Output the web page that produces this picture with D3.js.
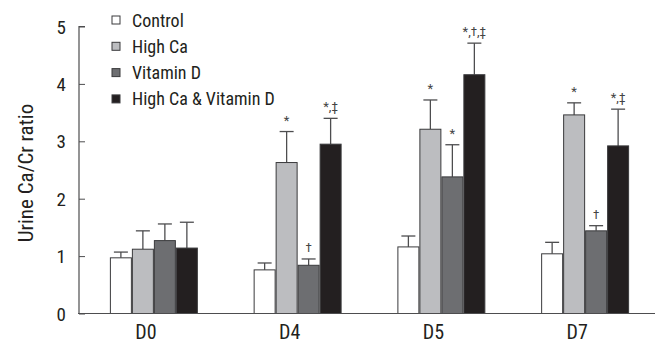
<!DOCTYPE html>
<html>
<head>
<meta charset="utf-8">
<script src="https://cdn.jsdelivr.net/npm/d3@7"></script>
<style>
  body { margin: 0; background: #fff; }
  svg text { font-family: "Liberation Sans Narrow", "Arial Narrow", "Roboto Condensed", sans-serif; fill: #231f20; }
</style>
</head>
<body>
<svg id="chart" width="657" height="344"></svg>
<script>
const days = ["D0", "D4", "D5", "D7"];
const groups = ["Control", "High Ca", "Vitamin D", "High Ca & Vitamin D"];
const colors = ["#ffffff", "#bcbdc0", "#6d6e71", "#231f20"];

// mean per group, one array per series (D0, D4, D5, D7)
const controlVals = [0.97, 0.76, 1.16, 1.04];
const highCaVals = [1.12, 2.63, 3.21, 3.46];
const vitDVals = [1.27, 0.84, 2.38, 1.44];
const comboVals = [1.14, 2.95, 4.16, 2.92];

// top of error bar
const controlErr = [1.07, 0.88, 1.35, 1.24];
const highCaErr = [1.44, 3.17, 3.72, 3.67];
const vitDErr = [1.56, 0.95, 2.94, 1.53];
const comboErr = [1.59, 3.40, 4.71, 3.56];

// significance marks
const controlSig = ["", "", "", ""];
const highCaSig = ["", "*", "*", "*"];
const vitDSig = ["", "†", "*", "†"];
const comboSig = ["", "*,‡", "*,†,‡", "*,‡"];

const yTicks = [0, 1, 2, 3, 4, 5];

const series = [
  { name: groups[0], vals: controlVals, err: controlErr, sig: controlSig },
  { name: groups[1], vals: highCaVals, err: highCaErr, sig: highCaSig },
  { name: groups[2], vals: vitDVals, err: vitDErr, sig: vitDSig },
  { name: groups[3], vals: comboVals, err: comboErr, sig: comboSig }
];

const svg = d3.select("#chart");

const x0 = d3.scaleBand().domain(days).range([82, 657]).paddingInner(0.388).paddingOuter(0.194);
const x1 = d3.scaleBand().domain(groups).range([0, x0.bandwidth()]);
const y = d3.scaleLinear().domain([0, 5]).range([313.5, 26.5]);

// flatten series into bar rows
const rows = [];
series.forEach((s, si) => {
  days.forEach((d, di) => {
    rows.push({ day: d, group: s.name, color: colors[si], v: s.vals[di], e: s.err[di], sig: s.sig[di] });
  });
});
const cx = d => x0(d.day) + x1(d.group) + x1.bandwidth() / 2;

const g = svg.append("g");

// error bars first (behind bars)
g.selectAll("line.err").data(rows).join("line")
  .attr("class", "err")
  .attr("x1", cx).attr("x2", cx)
  .attr("y1", d => y(d.v))
  .attr("y2", d => y(d.e))
  .attr("stroke", "#4d4d4f").attr("stroke-width", 1.3);

g.selectAll("line.cap").data(rows).join("line")
  .attr("class", "cap")
  .attr("x1", d => cx(d) - 7)
  .attr("x2", d => cx(d) + 7)
  .attr("y1", d => y(d.e))
  .attr("y2", d => y(d.e))
  .attr("stroke", "#4d4d4f").attr("stroke-width", 1.3);

g.selectAll("rect.bar").data(rows).join("rect")
  .attr("class", "bar")
  .attr("x", d => x0(d.day) + x1(d.group) + 0.5)
  .attr("y", d => y(d.v))
  .attr("width", x1.bandwidth() - 1)
  .attr("height", d => y(0) - y(d.v))
  .attr("fill", d => d.color)
  .attr("stroke", "#3a3a3c").attr("stroke-width", 1);

g.selectAll("text.sig").data(rows.filter(d => d.sig)).join("text")
  .attr("class", "sig")
  .attr("x", cx)
  .attr("y", d => y(d.e) - 7)
  .attr("text-anchor", "middle")
  .style("font-size", "13px")
  .style("fill", "#444")
  .text(d => d.sig);

// y axis, ticks point inward
const yAxis = svg.append("g").attr("transform", "translate(79,0)")
  .call(d3.axisRight(y).tickValues(yTicks).tickSize(6).tickFormat(() => ""));
yAxis.select(".domain").attr("stroke", "#4d4d4f").attr("stroke-width", 1.2).attr("d", `M6,${y(5)}H0V${y(0)}`);
yAxis.selectAll(".tick line").attr("stroke", "#4d4d4f");

svg.append("g").selectAll("text").data(yTicks).join("text")
  .attr("x", 66).attr("y", d => y(d) + 7)
  .attr("text-anchor", "end")
  .style("font-size", "19px")
  .text(d => d);

// x axis
svg.append("line")
  .attr("x1", 78).attr("x2", 655)
  .attr("y1", y(0)).attr("y2", y(0))
  .attr("stroke", "#4d4d4f").attr("stroke-width", 1.2);

svg.append("g").selectAll("text").data(days).join("text")
  .attr("x", d => x0(d) + x0.bandwidth() / 2 - 8)
  .attr("y", 339)
  .attr("text-anchor", "middle")
  .style("font-size", "20px")
  .text(d => d);

// y label
svg.append("text")
  .attr("transform", "translate(33,173) rotate(-90)")
  .attr("text-anchor", "middle")
  .style("font-size", "21px")
  .text("Urine Ca/Cr ratio");

// legend
const legend = svg.append("g").selectAll("g").data(groups).join("g")
  .attr("transform", (d, i) => `translate(112,${20 + i * 26.3})`);
legend.append("rect")
  .attr("x", 0).attr("y", -4).attr("width", 8).attr("height", 8)
  .attr("fill", (d, i) => colors[i])
  .attr("stroke", "#3a3a3c").attr("stroke-width", 1);
legend.append("text")
  .attr("x", 20).attr("y", 6.5)
  .style("font-size", "18px")
  .text(d => d);
</script>
</body>
</html>
